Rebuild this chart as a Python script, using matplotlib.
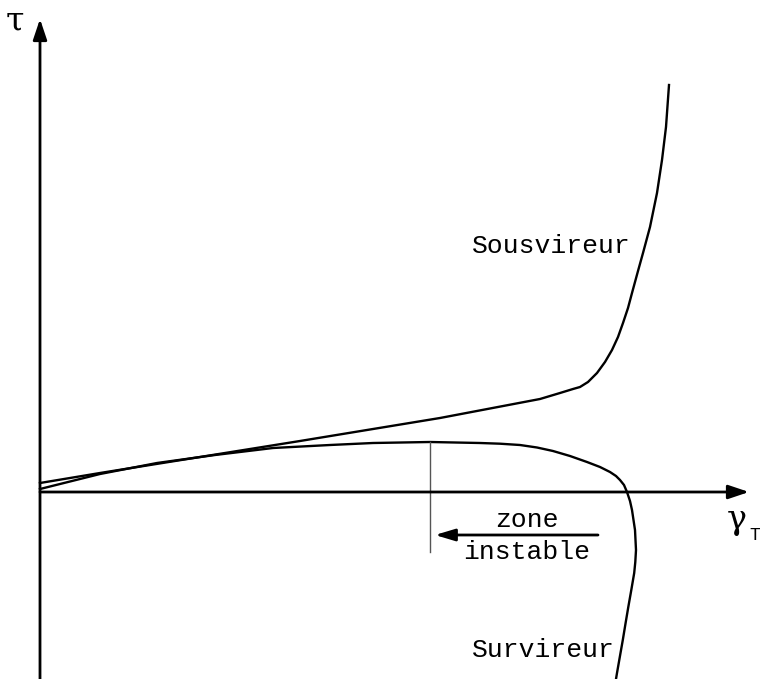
import numpy as np
import matplotlib
matplotlib.use("Agg")
import matplotlib.pyplot as plt

# lateral acceleration gamma_T vs. steering gradient tau (arbitrary units)
gamma_sous = [0, 60, 160, 260, 400, 500, 520, 533, 540, 548, 557, 565, 572, 578, 583, 588,
              592, 598, 603, 610, 617, 622, 626, 629]
tau_sous = [9, 19, 35, 51, 74, 93, 99, 103, 105, 110, 119, 130, 142, 155, 169, 184,
            199, 221, 239, 265, 299, 332, 365, 407]

gamma_sur = [0, 60, 117, 175, 233, 290, 333, 390, 440, 460, 480, 497, 513, 530, 547, 560, 570, 576,
             580, 584, 587, 590, 592, 595, 596, 595.3, 594.2, 591.3, 588.3, 585.6, 582.8, 579.8, 577, 576]
tau_sur = [3, 18, 29, 37, 44, 47, 49, 50, 49, 48.3, 47, 44.5, 41, 36, 30, 25, 20, 16,
           12, 7, 0, -9, -18, -38, -58, -70, -81, -98, -115, -131, -148, -165, -181, -187]

gamma_limit = 390          # start of the unstable zone
tau_limit = 50
zone_arrow = (558, 395)    # arrow from / to, along gamma
zone_tau = -43

fig = plt.figure(figsize=(7.6, 6.79), dpi=100)
ax = fig.add_axes([0, 0, 1, 1])
ax.set_xlim(-40, 720)
ax.set_ylim(-187, 492)
ax.axis("off")

# axes with arrow heads
head = "-|>,head_length=1.25,head_width=0.42"
ax.annotate("", xy=(709, 0), xytext=(0, 0),
            arrowprops=dict(arrowstyle=head, color="black", lw=2, shrinkA=0, shrinkB=0))
ax.annotate("", xy=(0, 473), xytext=(0, -187),
            arrowprops=dict(arrowstyle=head, color="black", lw=2, shrinkA=0, shrinkB=0))

ax.plot(gamma_sous, tau_sous, color="black", lw=1.7, solid_joinstyle="round")
ax.plot(gamma_sur, tau_sur, color="black", lw=1.7, solid_joinstyle="round")

# limit of stability
ax.plot([gamma_limit, gamma_limit], [tau_limit, -60], color="#555555", lw=1)
ax.annotate("", xy=(zone_arrow[1], zone_tau), xytext=(zone_arrow[0], zone_tau),
            arrowprops=dict(arrowstyle="-|>,head_length=1.2,head_width=0.36", color="black",
                            lw=2, shrinkA=0, shrinkB=0))

mono = "Liberation Mono"
ax.text(487, -28, "zone", family=mono, fontsize=19, ha="center", va="center")
ax.text(487, -60, "instable", family=mono, fontsize=19, ha="center", va="center")
ax.text(432, 246, "Sousvireur", family=mono, fontsize=19, ha="left", va="center")
ax.text(432, -158, "Survireur", family=mono, fontsize=19, ha="left", va="center")

ax.text(-25, 470, "τ", family="DejaVu Serif", fontsize=24, ha="center", va="center")
ax.text(697, -28, "γ", family="DejaVu Serif", fontsize=24, ha="center", va="center")
ax.text(715, -44, "T", family=mono, fontsize=13, ha="center", va="center")

fig.savefig("out.png", dpi=100)
